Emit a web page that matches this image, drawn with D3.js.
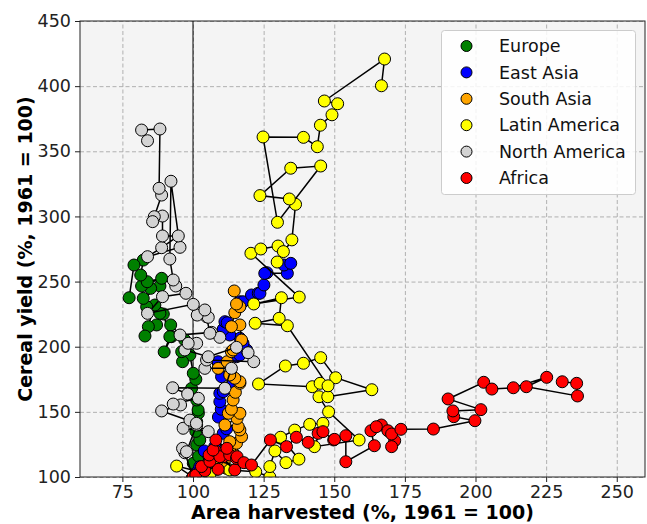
<!DOCTYPE html>
<html>
<head>
<meta charset="utf-8">
<script src="https://cdn.jsdelivr.net/npm/d3@7"></script>
<style>
  body { margin: 0; background: #fff; }
  text { font-family: "DejaVu Sans", sans-serif; }
</style>
</head>
<body>
<svg id="chart" width="647" height="524"></svg>
<script>
// regions in legend / plotting order
const regions = ["Europe", "East Asia", "South Asia", "Latin America", "North America", "Africa"];
const colors = ["green", "blue", "orange", "yellow", "lightgray", "red"];

// [area harvested %, cereal yield %], 1961 = 100, chronological
const europe = [
  [100,100],[101.2,106],[100.1,110.5],[102,116],[101.3,124.6],[102.4,128.4],[101,135],[101.3,142.4],
  [101.9,148.9],[101.8,151.4],[101.3,159.1],[99.5,168],[101,175],[100.1,179.6],[98.9,193.6],[96.3,188.5],
  [96,196.2],[97.1,205.1],[92.1,216.7],[92.4,207.7],[89.8,196],[91.8,207.7],[89.5,225.1],[88.3,225.6],
  [87.1,216.7],[84.2,215.4],[83,208.2],[86.5,232],[83.6,230.7],[82.4,237.1],[88.3,246.6],[85,244.8],
  [81.8,246.6],[88.9,252.5],[83.8,249.9],[81.5,255],[82.4,266.5],[79.1,262.7],[77.4,237.6]
];
const eastAsia = [
  [100,100],[101.5,104],[102.4,107.9],[105.4,116.9],[104,120],[107.7,123.3],[110.7,133.5],[111.9,137],
  [109,146],[110,152],[109.5,157.8],[109.5,164.2],[110.7,165.5],[110.1,177],[114.2,171.9],[108.9,187.7],
  [108.9,188.5],[115.4,192.3],[116.6,193.6],[119,197.5],[117.7,202.6],[116.6,206.5],[113,209],[110.7,213.4],
  [111.3,219.2],[112.1,218.4],[116.6,234.5],[117.7,234.5],[120.7,239.7],[123.1,241],[123.7,241],[125.1,247.4],
  [126.2,256.8],[125.4,256.3],[133.4,256.3],[132.2,262.7],[134.6,264]
];
const southAsia = [
  [100,100],[104,103],[108.3,106],[111.9,106.6],[110,110],[108.3,111.7],[112,115],[114.2,118.2],
  [113,122],[115.4,125.9],[113,127.1],[117.2,130.9],[116.6,136.1],[116,138.6],[111.3,139.9],[115.6,145],
  [112.5,148.9],[116.6,148.9],[113.6,152],[114.2,159.1],[115,165],[116.6,171.9],[116.6,173.1],[114.8,175.8],
  [113,178.3],[108.9,183.4],[112.1,188.5],[113.6,196.2],[114.2,197.5],[117.2,205.1],[116.6,216.7],[113.6,215.4],
  [114.8,226.1],[116.6,230.7],[115.4,232.8],[114.6,242.8]
];
const latinAmerica = [
  [100,100],[94.2,108.4],[106,102],[113,105.4],[122.2,104],[127.2,100],[127.2,108],[129,120],
  [132.9,111],[137.5,113.7],[131,130.5],[136,136],[141.3,140.4],[146,141.2],[143,123.3],[158.8,128.4],
  [148,150],[144.6,161.6],[147.7,161.6],[163.3,167],[150.5,176.2],[145.2,191.6],[139.1,187.3],[132.7,185.2],
  [123.2,171.4],[142.2,169.3],[145,171.9],[147.8,170],[133.4,216.1],[122,218],[130.5,221.8],[131.3,237.6],
  [121.5,232.8],[137.6,238.1],[120.5,271.7],[124,275],[130.1,277.3],[132,273],[129.8,265],[135,282],
  [136.3,309.3],[134.1,313.4],[123.7,316],[134.6,337],[145.2,338.7],[129.9,295.5],[124.8,361],[139.1,360.7],
  [144,353.5],[145.1,370],[149.2,378],[151.2,386.5],[146.5,388.6],[167.8,420.8],[166.7,400.3]
];
const northAmerica = [
  [100,100],[97.1,118.6],[96.3,122],[97.7,119.4],[101.3,139.9],[105.4,134.8],[96.5,137.4],[98.9,143.7],
  [101.2,141.2],[88.9,150.7],[95.6,155.3],[93,156],[101.9,160.4],[98.1,163.7],[92.8,168.5],[111.3,168.1],
  [113.6,183.4],[104.2,183.4],[104.8,189.8],[121.5,188.5],[119.5,195.4],[115.4,199.5],[105.4,192.3],[97.1,197.5],
  [101.3,202.6],[98.3,202.6],[95.4,209],[106.6,211],[109.5,207.2],[106,210.3],[104.8,223],[105.4,222.6],
  [101.5,224.3],[104.2,228.2],[100.1,232.5],[83.9,225.6],[89.2,238.4],[97.5,241],[93.9,246.6],[93,251.2],
  [91.8,267.3],[92.2,327],[95.4,276.3],[83.9,269.1],[88.9,276],[94.8,285],[89.2,285],[89.2,300.3],
  [86.3,299.8],[85.7,296],[88.9,316.4],[88,321.6],[88.3,367.1],[81.8,366.3],[83.9,358.1]
];
const africa = [
  [100,100],[101,101.5],[104.2,104.8],[103,108],[108.9,105.9],[106,112],[105.7,116.9],[110.7,115.6],
  [108,120],[114.8,105.4],[109.5,115.6],[113,116.9],[107.1,120.7],[112,122],[115.4,114.3],[108.1,128.4],
  [115.6,115.6],[118,111],[120.7,109.2],[127.4,128.4],[133.1,123.3],[136.6,130.5],[140.8,126.6],[144.3,133.5],
  [146,134.8],[149.8,128.4],[150.1,128.9],[154.1,131.7],[154.1,111.7],[164.2,124],[163,135.5],[166.7,139.9],
  [164.9,138.6],[169,135.5],[171.4,127.9],[170.3,123.3],[170.3,133],[173.6,136.6],[185.1,136.8],[199.8,143.2],
  [192.3,146.3],[192,150.7],[201.9,151.7],[190.3,159.9],[202.9,172.7],[205.8,167.5],[213.4,168.5],[225.2,176.5],
  [218,169.3],[236.1,162.2],[235.8,171.9],[230.7,173.1]
];
const series = [europe, eastAsia, southAsia, latinAmerica, northAmerica, africa];

const xTicks = [75, 100, 125, 150, 175, 200, 225, 250];
const yTicks = [100, 150, 200, 250, 300, 350, 400, 450];

const plot = {left: 80, right: 645, top: 21, bottom: 477};
const svg = d3.select("#chart");

const x = d3.scaleLinear().domain([60, 260]).range([plot.left, plot.right]);
const y = d3.scaleLinear().domain([100, 450]).range([plot.bottom, plot.top]);

svg.append("rect")
  .attr("x", plot.left).attr("y", plot.top)
  .attr("width", plot.right - plot.left).attr("height", plot.bottom - plot.top)
  .attr("fill", "#f4f4f4");

svg.append("clipPath").attr("id", "clip")
  .append("rect")
  .attr("x", plot.left).attr("y", plot.top)
  .attr("width", plot.right - plot.left).attr("height", plot.bottom - plot.top);

// grid
const grid = svg.append("g");
grid.append("g")
  .attr("transform", `translate(0,${plot.bottom})`)
  .call(d3.axisBottom(x).tickValues(xTicks).tickSize(-(plot.bottom - plot.top)).tickFormat(""))
  .call(g => g.select(".domain").remove());
grid.append("g")
  .attr("transform", `translate(${plot.left},0)`)
  .call(d3.axisLeft(y).tickValues(yTicks).tickSize(-(plot.right - plot.left)).tickFormat(""))
  .call(g => g.select(".domain").remove());
grid.selectAll("line")
  .attr("stroke", "#b0b0b0").attr("stroke-width", 1).attr("stroke-dasharray", "4,2.5");

// reference line at 100
svg.append("line")
  .attr("x1", x(100)).attr("x2", x(100))
  .attr("y1", plot.top).attr("y2", plot.bottom)
  .attr("stroke", "#000").attr("stroke-width", 1);

const marks = svg.append("g").attr("clip-path", "url(#clip)");
const line = d3.line().x(d => x(d[0])).y(d => y(d[1]));

series.forEach((data, i) => {
  const g = marks.append("g");
  g.append("path")
    .attr("d", line(data))
    .attr("fill", "none")
    .attr("stroke", "#000")
    .attr("stroke-width", 1.5);
  g.selectAll("circle")
    .data(data).enter().append("circle")
    .attr("cx", d => x(d[0]))
    .attr("cy", d => y(d[1]))
    .attr("r", 6)
    .attr("fill", colors[i])
    .attr("stroke", "#000")
    .attr("stroke-width", 1);
});

// axes
const xAxis = svg.append("g")
  .attr("transform", `translate(0,${plot.bottom})`)
  .call(d3.axisBottom(x).tickValues(xTicks).tickSize(5).tickPadding(4));
const yAxis = svg.append("g")
  .attr("transform", `translate(${plot.left},0)`)
  .call(d3.axisLeft(y).tickValues(yTicks).tickSize(5).tickPadding(4));
[xAxis, yAxis].forEach(a => {
  a.select(".domain").remove();
  a.selectAll("text").attr("font-size", 17.5).attr("fill", "#222")
    .style("font-family", "'DejaVu Sans', sans-serif");
  a.selectAll("line").attr("stroke", "#222");
});

svg.append("rect")
  .attr("x", plot.left).attr("y", plot.top)
  .attr("width", plot.right - plot.left).attr("height", plot.bottom - plot.top)
  .attr("fill", "none").attr("stroke", "#222").attr("stroke-width", 1);

svg.append("text")
  .attr("x", (plot.left + plot.right) / 2).attr("y", 519)
  .attr("text-anchor", "middle")
  .attr("font-size", 19).attr("font-weight", "bold")
  .text("Area harvested (%, 1961 = 100)");

svg.append("text")
  .attr("transform", `translate(32,${(plot.top + plot.bottom) / 2}) rotate(-90)`)
  .attr("text-anchor", "middle")
  .attr("font-size", 19).attr("font-weight", "bold")
  .text("Cereal yield (%, 1961 = 100)");

// legend
const legend = svg.append("g");
legend.append("rect")
  .attr("x", 441.5).attr("y", 30.5).attr("width", 194).attr("height", 164).attr("rx", 3)
  .attr("fill", "#fff").attr("fill-opacity", 0.85)
  .attr("stroke", "#ccc");
regions.forEach((name, i) => {
  const ly = 46 + i * 26.4;
  legend.append("circle")
    .attr("cx", 466.5).attr("cy", ly).attr("r", 5.5)
    .attr("fill", colors[i]).attr("stroke", "#000").attr("stroke-width", 1);
  legend.append("text")
    .attr("x", 499).attr("y", ly).attr("dy", "0.35em")
    .attr("font-size", 17.5).attr("fill", "#111")
    .text(name);
});
</script>
</body>
</html>
